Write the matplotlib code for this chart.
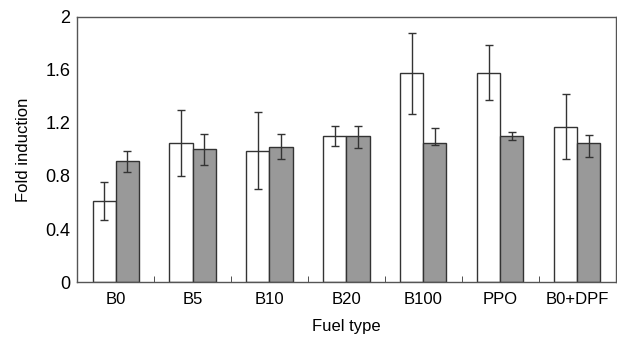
import matplotlib
matplotlib.use('Agg')
import matplotlib.pyplot as plt
import numpy as np

plt.rcParams['font.family'] = ['Liberation Sans', 'DejaVu Sans']

# data
fuels = ['B0', 'B5', 'B10', 'B20', 'B100', 'PPO', 'B0+DPF']
white_vals = [0.61, 1.05, 0.99, 1.10, 1.575, 1.575, 1.17]
white_lo = [0.145, 0.25, 0.29, 0.075, 0.305, 0.20, 0.245]
white_hi = [0.145, 0.25, 0.29, 0.075, 0.305, 0.21, 0.245]
gray_vals = [0.91, 1.00, 1.02, 1.10, 1.05, 1.105, 1.045]
gray_lo = [0.08, 0.117, 0.095, 0.09, 0.02, 0.03, 0.10]
gray_hi = [0.08, 0.117, 0.095, 0.075, 0.11, 0.025, 0.065]

fig = plt.figure(figsize=(6.17, 3.37), dpi=100)
ax = fig.add_axes([0.125, 0.163, 0.873, 0.787])

x = np.arange(len(fuels))
w = 0.3
err_kw = dict(ecolor='#333333', elinewidth=1, capsize=3, capthick=1)
ax.bar(x - w / 2, white_vals, w, color='white', edgecolor='#333333', linewidth=1,
       yerr=[white_lo, white_hi], error_kw=err_kw)
ax.bar(x + w / 2, gray_vals, w, color='#999999', edgecolor='#333333', linewidth=1,
       yerr=[gray_lo, gray_hi], error_kw=err_kw)

ax.set_xlim(-0.5, len(fuels) - 0.5)
ax.set_ylim(0, 2)
ax.set_yticks([0, 0.4, 0.8, 1.2, 1.6, 2])
ax.set_yticklabels(['0', '0.4', '0.8', '1.2', '1.6', '2'], fontsize=13)
ax.set_xticks(x)
ax.set_xticklabels(fuels, fontsize=12)
ax.set_xticks(x[:-1] + 0.5, minor=True)
ax.tick_params(axis='x', which='major', length=0, pad=7)
ax.tick_params(axis='x', which='minor', direction='in', length=4, color='#333333')
ax.tick_params(axis='y', length=0, pad=5)

for s in ax.spines.values():
    s.set_color('#555555')
    s.set_linewidth(1)

ax.set_xlabel('Fuel type', fontsize=12, labelpad=9)
ax.set_ylabel('Fold induction', fontsize=12, labelpad=10)

fig.savefig('out.png', dpi=100)
